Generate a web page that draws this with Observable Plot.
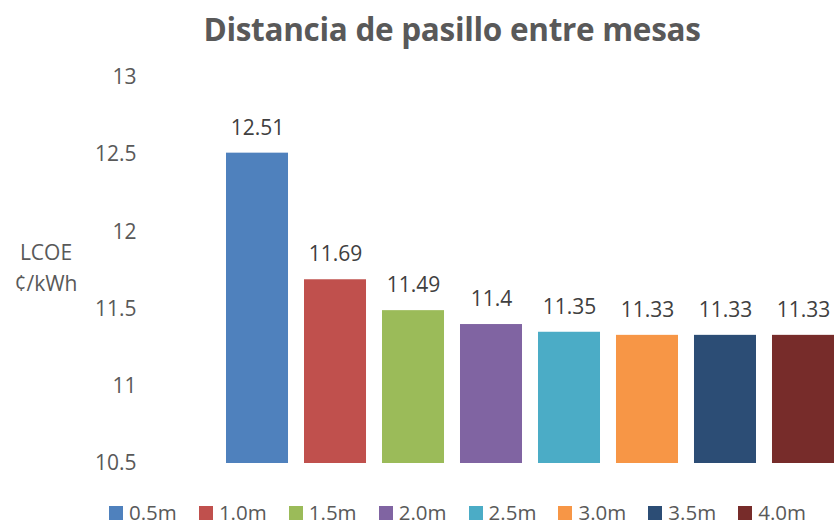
<!DOCTYPE html>
<html><head><meta charset="utf-8">
<script src="https://cdn.jsdelivr.net/npm/d3@7"></script>
<script src="https://cdn.jsdelivr.net/npm/@observablehq/plot@0.6"></script>
<style>
body{margin:0;background:#fff;font-family:"Open Sans",sans-serif;}
#wrap{position:relative;width:834px;height:526px;overflow:hidden;}
#title{height:60px;line-height:58px;text-align:center;padding-left:70px;font-size:31.5px;font-weight:bold;color:#595959;letter-spacing:-0.3px;}
#ylab{position:absolute;left:0;width:92px;top:237px;text-align:center;font-size:21px;line-height:31px;color:#595959;}
#legend{position:absolute;top:502px;left:109px;display:flex;font-size:20.5px;color:#595959;line-height:20px;height:20px;}
.item{width:89.9px;display:flex;align-items:center;height:20px;}
.sw{width:14px;height:14px;margin-right:6px;margin-top:2px;}
</style></head>
<body><div id="wrap">
<div id="title">Distancia de pasillo entre mesas</div>
<div id="chart"></div>
<div id="ylab">LCOE<br>¢/kWh</div>
<div id="legend"></div>
</div>
<script>
const categories = ["0.5m","1.0m","1.5m","2.0m","2.5m","3.0m","3.5m","4.0m"];
const values = [12.51, 11.69, 11.49, 11.4, 11.35, 11.33, 11.33, 11.33];
const labels = ["12.51","11.69","11.49","11.4","11.35","11.33","11.33","11.33"];
const colors = ["#4F81BD","#C0504D","#9BBB59","#8064A2","#4BACC6","#F79646","#2C4D75","#772C2A"];
const yTicks = [10.5, 11, 11.5, 12, 12.5, 13];

const data = categories.map((c,i)=>({cat:c, v:values[i], lab:labels[i]}));
const base = 10.5;

const chart = Plot.plot({
  width: 834, height: 430,
  marginLeft: 226, marginRight: 0, marginTop: 17, marginBottom: 27,
  style: {fontFamily: "Open Sans, sans-serif", fontSize: "21px", color: "#595959", background: "#fff"},
  x: {domain: categories, paddingInner: 0.205, paddingOuter: 0, round: false, axis: null},
  y: {domain: [10.5, 13], ticks: yTicks, tickFormat: d => String(d), label: null},
  color: {domain: categories, range: colors},
  marks: [
    Plot.axisY({ticks: yTicks, tickSize: 0, tickPadding: 90, tickFormat: d => String(d), fontSize: 21, label: null, fill: "#595959"}),
    Plot.rectY(data, {x: "cat", y1: base, y2: "v", fill: "cat"}),
    Plot.text(data, {x: "cat", y: "v", text: "lab", dy: -25, fontSize: 21, fill: "#404040"})
  ]
});
document.getElementById("chart").appendChild(chart);

const leg = document.getElementById("legend");
categories.forEach((c,i)=>{
  const it = document.createElement("div"); it.className="item";
  const sw = document.createElement("div"); sw.className="sw"; sw.style.background=colors[i];
  const t = document.createElement("span"); t.textContent=c;
  it.appendChild(sw); it.appendChild(t); leg.appendChild(it);
});
</script></body></html>
